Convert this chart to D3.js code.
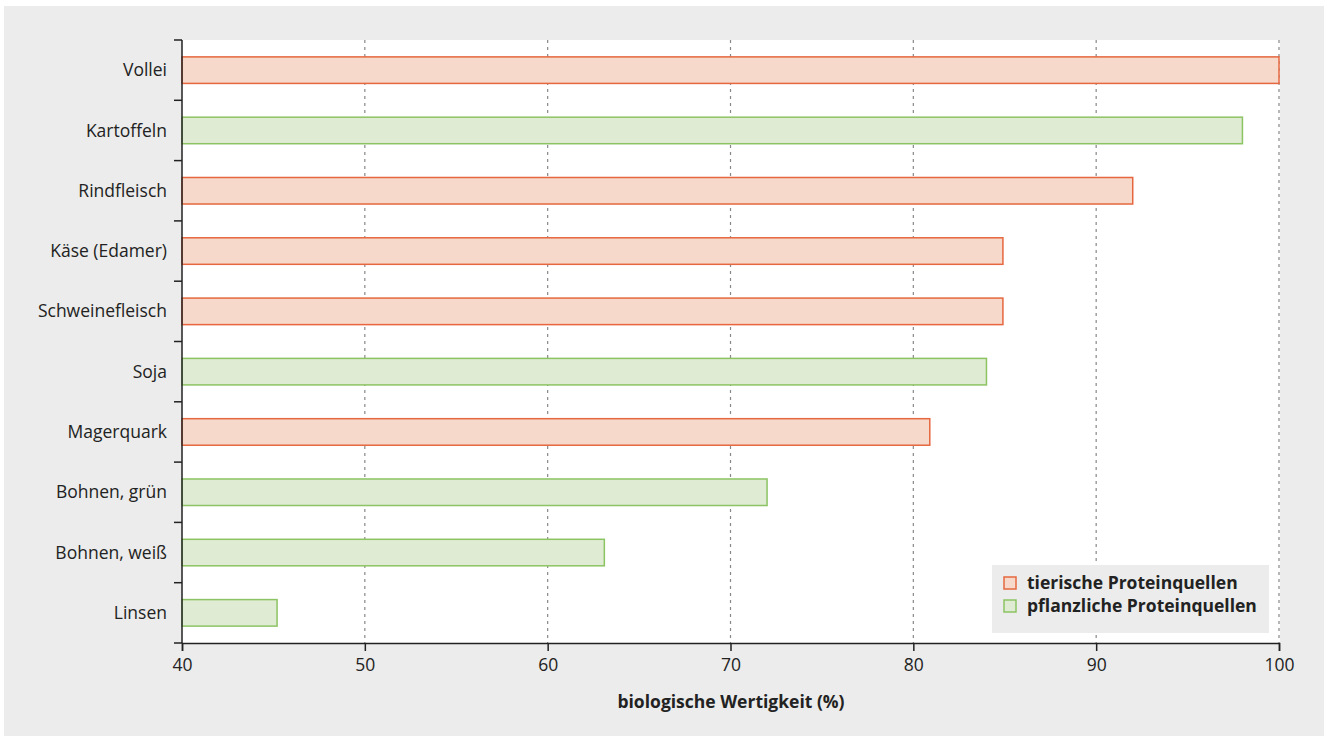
<!DOCTYPE html>
<html><head><meta charset="utf-8">
<script src="https://cdn.jsdelivr.net/npm/d3@7"></script>
<style>body{margin:0;background:#fff;font-family:"Open Sans",sans-serif;}</style>
</head><body>
<svg id="c" width="1328" height="742"></svg>
<script>
const categories = ["Vollei","Kartoffeln","Rindfleisch","Käse (Edamer)","Schweinefleisch","Soja","Magerquark","Bohnen, grün","Bohnen, weiß","Linsen"];
const values = [100,98,92,84.9,84.9,84,80.9,72,63.1,45.2];
const groups = ["tier","pfl","tier","tier","tier","pfl","tier","pfl","pfl","pfl"];
const xTicks = [40,50,60,70,80,90,100];
const legendLabels = ["tierische Proteinquellen","pflanzliche Proteinquellen"];
const axisTitle = "biologische Wertigkeit (%)";

const col = {tier:{fill:"#f6d9ca",stroke:"#e6673f"}, pfl:{fill:"#dfebd3",stroke:"#8cc363"}};
const svg = d3.select("#c");
svg.append("rect").attr("x",4).attr("y",6).attr("width",1320).attr("height",730).attr("fill","#ebeceb");
const L=182,R=1280,T=40,B=643;
svg.append("rect").attr("x",L).attr("y",T).attr("width",R-L).attr("height",B-T).attr("fill","#fff");
const x=d3.scaleLinear().domain([40,100]).range([L,R-1]);
const y=d3.scaleBand().domain(categories).range([T,B]).paddingInner(0.56).paddingOuter(0.28);
const yb=d3.scaleBand().domain(categories).range([T,B]);
// grid
svg.append("g").selectAll("line").data(xTicks.slice(1)).join("line")
 .attr("x1",d=>x(d)).attr("x2",d=>x(d)).attr("y1",T).attr("y2",B)
 .attr("stroke","#888").attr("stroke-width",1.2).attr("stroke-dasharray","3,4");
// bars
svg.append("g").selectAll("rect").data(categories).join("rect")
 .attr("x",x(40)).attr("y",d=>y(d)).attr("width",(d,i)=>x(values[i])-x(40)).attr("height",y.bandwidth())
 .attr("fill",(d,i)=>col[groups[i]].fill).attr("stroke",(d,i)=>col[groups[i]].stroke).attr("stroke-width",1.5);
// y axis
const ya=svg.append("g").attr("transform",`translate(${L},0)`);
ya.append("line").attr("x1",0).attr("x2",0).attr("y1",T).attr("y2",B).attr("stroke","#222").attr("stroke-width",1.5);
const bounds=categories.map(c=>yb(c)).concat([B]);
ya.selectAll("line.t").data(bounds).join("line").attr("class","t").attr("x1",-8).attr("x2",0).attr("y1",d=>d).attr("y2",d=>d).attr("stroke","#222").attr("stroke-width",1.5);
ya.selectAll("text").data(categories).join("text").attr("x",-15).attr("y",d=>yb(d)+yb.bandwidth()/2).attr("dy","0.35em")
 .attr("text-anchor","end").attr("font-size",17.5).attr("fill","#222").text(d=>d);
// x axis
const xa=svg.append("g").attr("transform",`translate(0,${B})`).call(d3.axisBottom(x).tickValues(xTicks).tickSize(8).tickPadding(8));
xa.select(".domain").attr("stroke","#222").attr("stroke-width",1.5);
xa.selectAll(".tick line").attr("stroke","#222").attr("stroke-width",1.5);
xa.selectAll("text").attr("font-size",17.5).attr("fill","#222").attr("font-family","Open Sans");
svg.append("text").attr("x",(L+R)/2).attr("y",708).attr("text-anchor","middle").attr("font-size",17.5).attr("font-weight","bold").attr("fill","#222").text(axisTitle);
// legend
const lg=svg.append("g");
lg.append("rect").attr("x",992).attr("y",565).attr("width",277).attr("height",68).attr("fill","#ebeceb");
legendLabels.forEach((t,i)=>{
 const k=i?"pfl":"tier";
 lg.append("rect").attr("x",1004).attr("y",577+i*23).attr("width",12).attr("height",12).attr("fill",col[k].fill).attr("stroke",col[k].stroke).attr("stroke-width",1.5);
 lg.append("text").attr("x",1027).attr("y",583+i*23).attr("dy","0.35em").attr("font-size",17.5).attr("font-weight","bold").attr("fill","#222").text(t);
});
</script></body></html>
